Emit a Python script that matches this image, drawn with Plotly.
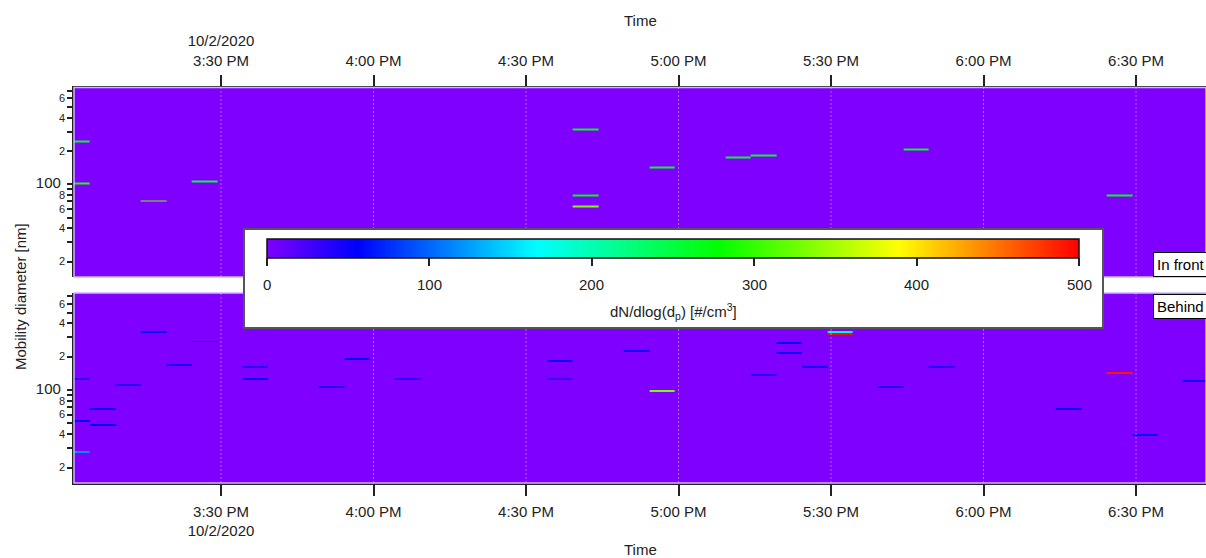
import numpy as np
import pandas as pd
import colorsys
import plotly.graph_objects as go

# ---------------- data ----------------
scan_start = "2020-10-02 14:59:14"     # start of first SMPS scan
scan_minutes = 5
n_scans = 45
dp_min, dp_max = 14.5, 750.0           # nm
bins_per_decade = 56

# "In front" panel: scan index, mobility diameter (nm), dN/dlog(dp) (#/cm3)
front_scan = [0, 0, 3, 5, 20, 20, 20, 23, 26, 27, 33, 41]
front_dp = [247, 103, 70, 107, 305, 80.5, 62, 143, 176, 185, 206, 80.5]
front_conc = [265, 290, 330, 255, 270, 275, 335, 265, 265, 265, 270, 270]

# "Behind" panel
behind_scan = [0, 0, 0, 1, 1, 2, 3, 4, 5, 7, 7, 10, 11, 13, 19, 19, 22, 23, 27, 28,
               28, 29, 30, 30, 32, 34, 39, 41, 42, 44]
behind_dp = [123, 54, 27, 67, 48, 111, 339, 170, 273, 163, 127, 106, 192, 123, 183, 123,
             227, 96.5, 137, 264, 212, 163, 342, 326, 106, 158, 67, 143, 40.5, 119]
behind_conc = [35, 55, 120, 50, 55, 40, 55, 45, 55, 40, 50, 40, 55, 35, 50, 30, 50, 330,
               35, 55, 50, 45, 175, 495, 40, 40, 50, 490, 65, 50]

tick_times = ["2020-10-02 15:30", "2020-10-02 16:00", "2020-10-02 16:30", "2020-10-02 17:00",
              "2020-10-02 17:30", "2020-10-02 18:00", "2020-10-02 18:30"]
tick_labels = ["3:30 PM", "4:00 PM", "4:30 PM", "5:00 PM", "5:30 PM", "6:00 PM", "6:30 PM"]
date_label = "10/2/2020"
x_range = ["2020-10-02 15:01:05", "2020-10-02 18:43:46"]

y_tickvals = [20, 40, 60, 80, 100, 200, 400, 600]
y_ticktext = ["2", "4", "6", "8", "<span style='font-size:15px'>100&nbsp;</span>", "2", "4", "6"]
y_minor_ticks = [30, 50, 70, 90, 300, 500, 700]
y_major_grid = [20, 40, 60, 80, 100, 200, 400, 600]
y_minor_grid = [30, 50, 70, 90, 300, 500, 700]

cbar_ticks = [0, 100, 200, 300, 400, 500]
cmin, cmax = 0, 500

# ---------------- grids ----------------
t_edges = pd.date_range(scan_start, periods=n_scans + 1, freq=f"{scan_minutes}min")
t_edges_str = [t.strftime("%Y-%m-%d %H:%M:%S") for t in t_edges]
n_bins = int(round((np.log10(dp_max) - np.log10(dp_min)) * bins_per_decade))
dp_edges = np.logspace(np.log10(dp_min), np.log10(dp_max), n_bins + 1)


def build_grid(scans, dps, concs):
    z = np.zeros((n_bins, n_scans))
    for s, d, c in zip(scans, dps, concs):
        i = int(np.searchsorted(dp_edges, d) - 1)
        z[i, s] = c
    return z


z_front = build_grid(front_scan, front_dp, front_conc)
z_behind = build_grid(behind_scan, behind_dp, behind_conc)

# Igor-like rainbow (violet -> red)
colorscale = []
for f in np.linspace(0, 1, 10):
    h = (270 - 270 * f) / 360.0
    r, g, b = colorsys.hsv_to_rgb(h, 1, 1)
    colorscale.append([float(f), f"rgb({int(r*255)},{int(g*255)},{int(b*255)})"])

# ---------------- figure ----------------
W, H, L = 1206, 558, 74
PW = W - L


def px_x(p):
    return (p - L) / PW


def px_y(p):
    return 1 - p / H


CB_LEFT, CB_LEN, CB_TOP, CB_THICK = 267, 812, 239, 19

fig = go.Figure()
fig.add_trace(go.Heatmap(x=t_edges_str, y=dp_edges, z=z_behind, coloraxis="coloraxis",
                         xaxis="x", yaxis="y", name="Behind"))
fig.add_trace(go.Heatmap(x=t_edges_str, y=dp_edges, z=z_front, coloraxis="coloraxis",
                         xaxis="x2", yaxis="y2", name="In front"))

font_fam = "Liberation Sans, Arial, sans-serif"
axcol = "#222222"

xcommon = dict(type="date", range=x_range, tickvals=tick_times, ticks="outside", ticklen=11,
               tickwidth=1.5, tickcolor=axcol, showline=True, linecolor=axcol, linewidth=1.5,
               showgrid=False, zeroline=False, tickfont=dict(size=15, color=axcol),
               ticklabelstandoff=3)
ycommon = dict(type="log", range=[np.log10(dp_min), np.log10(dp_max)], tickvals=y_tickvals,
               ticktext=y_ticktext, ticks="outside", ticklen=5, tickwidth=1.5, tickcolor=axcol,
               showline=True, linecolor=axcol, linewidth=1.5, showgrid=False, zeroline=False,
               tickfont=dict(size=11, color=axcol),
               minor=dict(tickvals=y_minor_ticks, ticks="outside", ticklen=5, tickwidth=1.5,
                          tickcolor=axcol, showgrid=False))

bottom_text = [tick_labels[0] + "<br>" + date_label] + tick_labels[1:]
top_text = [date_label + "<br>" + tick_labels[0]] + tick_labels[1:]

fig.update_layout(
    width=W, height=H,
    margin=dict(l=L, r=0, t=0, b=0, autoexpand=False),
    paper_bgcolor="white", plot_bgcolor="#8000FF",
    font=dict(family=font_fam, color=axcol),
    showlegend=False,
    xaxis=dict(xcommon, domain=[0, 1], anchor="y", side="bottom", ticktext=bottom_text),
    xaxis2=dict(xcommon, domain=[0, 1], anchor="y2", side="top", ticktext=top_text, matches="x"),
    yaxis=dict(ycommon, domain=[px_y(483), px_y(293)], anchor="x"),
    yaxis2=dict(ycommon, domain=[px_y(277), px_y(87.5)], anchor="x2"),
    coloraxis=dict(
        colorscale=colorscale, cmin=cmin, cmax=cmax,
        colorbar=dict(
            orientation="h", x=px_x(CB_LEFT + CB_LEN / 2), xanchor="center",
            y=px_y(CB_TOP), yanchor="top",
            lenmode="pixels", len=CB_LEN, thickness=CB_THICK, thicknessmode="pixels",
            outlinewidth=1.5, outlinecolor="#111111", ticks="outside", ticklen=8,
            tickwidth=1.5, tickcolor=axcol, tickvals=cbar_ticks, showticklabels=False,
            xpad=0, ypad=0, bgcolor="rgba(0,0,0,0)", borderwidth=0,
        ),
    ),
)

shapes = []
grid_major = dict(color="rgba(255,255,255,0.55)", width=1, dash="2px,2px")
grid_minor = dict(color="rgba(255,255,255,0.3)", width=1, dash="2px,2px")
grid_vert = dict(color="rgba(255,255,255,0.4)", width=1, dash="2px,2px")
for xr, yr in (("x", "y"), ("x2", "y2")):
    for t in tick_times:
        shapes.append(dict(type="line", xref=xr, yref=f"{yr} domain", x0=t, x1=t, y0=0, y1=1,
                           line=grid_vert, layer="above"))
    for v in y_major_grid:
        shapes.append(dict(type="line", xref=f"{xr} domain", yref=yr, x0=0, x1=1,
                           y0=np.log10(v), y1=np.log10(v), line=grid_major, layer="above"))
    for v in y_minor_grid:
        shapes.append(dict(type="line", xref=f"{xr} domain", yref=yr, x0=0, x1=1,
                           y0=np.log10(v), y1=np.log10(v), line=grid_minor, layer="above"))
    # light frame round the image
    shapes.append(dict(type="rect", xref=f"{xr} domain", yref=f"{yr} domain", x0=0, x1=1,
                       y0=0, y1=1, line=dict(color="#CDB6FF", width=1.5), layer="above"))
    # long tick at 100 nm
    shapes.append(dict(type="line", xref="paper", yref=yr, xsizemode="pixel", xanchor=0,
                       x0=-12, x1=0, y0=2, y1=2, line=dict(color=axcol, width=1.5),
                       layer="above"))

# white frame behind the colour bar
shapes.append(dict(type="rect", xref="paper", yref="paper", x0=px_x(244), x1=px_x(1103),
                   y0=px_y(328), y1=px_y(229), fillcolor="white",
                   line=dict(color="#555555", width=2), layer="above"))
fig.update_layout(shapes=shapes)

annotations = [
    dict(text="In front", xref="paper", yref="paper", x=px_x(1153), y=px_y(277),
         xanchor="left", yanchor="bottom", showarrow=False, font=dict(size=15, color="black"),
         bgcolor="white", bordercolor="black", borderwidth=1, borderpad=3),
    dict(text="Behind", xref="paper", yref="paper", x=px_x(1153), y=px_y(294),
         xanchor="left", yanchor="top", showarrow=False, font=dict(size=15, color="black"),
         bgcolor="white", bordercolor="black", borderwidth=1, borderpad=3),
    dict(text="Time", xref="paper", yref="paper", x=0.5, y=px_y(20), xanchor="center",
         yanchor="middle", showarrow=False, font=dict(size=15, color=axcol)),
    dict(text="Time", xref="paper", yref="paper", x=0.5, y=px_y(549), xanchor="center",
         yanchor="middle", showarrow=False, font=dict(size=15, color=axcol)),
    dict(text="Mobility diameter [nm]", xref="paper", yref="paper", x=px_x(20), y=px_y(297),
         xanchor="center", yanchor="middle", textangle=-90, showarrow=False,
         font=dict(size=15, color=axcol)),
    dict(text="dN/dlog(d<sub>p</sub>) [#/cm<sup>3</sup>]", xref="paper", yref="paper",
         x=px_x(CB_LEFT + CB_LEN / 2), y=px_y(311), xanchor="center", yanchor="middle",
         showarrow=False, font=dict(size=15, color=axcol)),
]
# colour-bar tick labels
for v in cbar_ticks:
    annotations.append(dict(text=str(v), xref="paper", yref="paper",
                            x=px_x(CB_LEFT + (v - cmin) / (cmax - cmin) * CB_LEN),
                            y=px_y(284), xanchor="center", yanchor="middle", showarrow=False,
                            font=dict(size=15, color=axcol)))
fig.update_layout(annotations=annotations)

fig.write_html(
    "out.html",
    config={"displayModeBar": False},
    post_script="document.body.style.margin='0px';document.body.style.padding='0px';"
                "document.documentElement.style.overflow='hidden';",
)
